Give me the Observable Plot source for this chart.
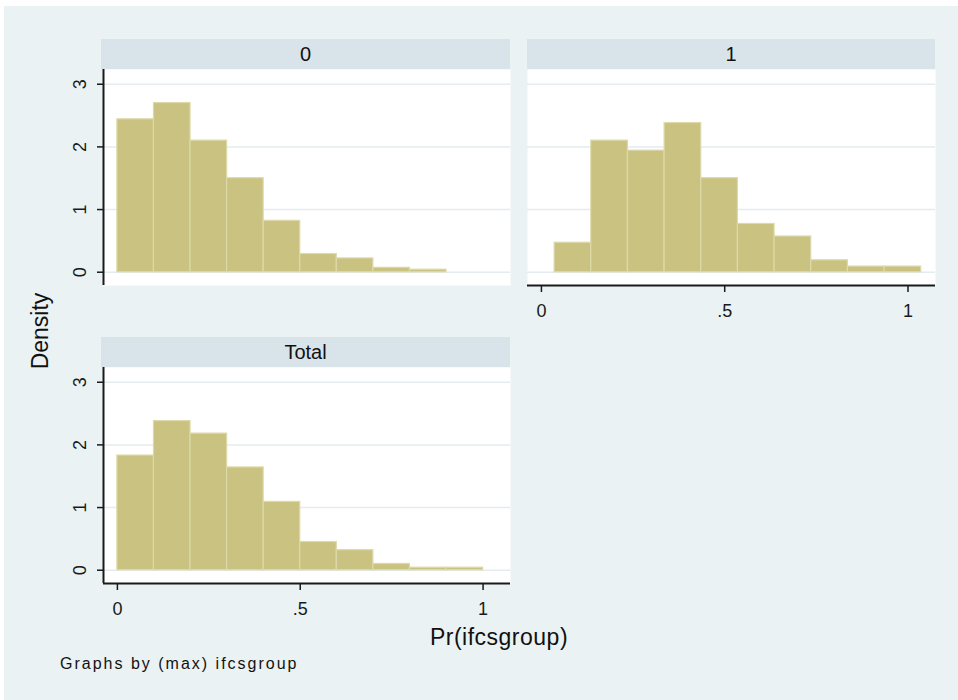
<!DOCTYPE html>
<html><head><meta charset="utf-8">
<script src="https://cdn.jsdelivr.net/npm/d3@7"></script>
<script src="https://cdn.jsdelivr.net/npm/@observablehq/plot@0.6"></script>
<style>
body{margin:0;background:#fff;font-family:"Liberation Sans",Arial,sans-serif;}
#page{position:relative;width:958px;height:700px;overflow:hidden;}
#bg{position:absolute;left:4px;top:6px;right:0;bottom:0;background:#eaf2f3;}
.hdr{position:absolute;background:#d8e4ea;color:#111;font-size:20px;text-align:center;height:30px;line-height:30px;}
.pnl{position:absolute;}
.pnl svg{overflow:visible;}
.lbl{position:absolute;color:#111;white-space:nowrap;}
</style></head><body>
<div id="page"><div id="bg"></div></div>
<script>
// Panel labels (by (max) ifcsgroup)
const panelNames = ["0", "1", "Total"];
// Bin edges and densities
const edges0 = [0, 0.1, 0.2, 0.3, 0.4, 0.5, 0.6, 0.7, 0.8, 0.9];
const dens0  = [2.44, 2.70, 2.10, 1.50, 0.82, 0.29, 0.22, 0.07, 0.04];
const edges1 = [0.036, 0.136, 0.236, 0.336, 0.436, 0.536, 0.636, 0.736, 0.836, 0.936, 1.036];
const dens1  = [0.47, 2.10, 1.94, 2.38, 1.50, 0.77, 0.57, 0.19, 0.09, 0.09];
const edgesT = [0, 0.1, 0.2, 0.3, 0.4, 0.5, 0.6, 0.7, 0.8, 0.9, 1.0];
const densT  = [1.83, 2.38, 2.18, 1.64, 1.09, 0.45, 0.32, 0.10, 0.04, 0.04];
// Ticks
const yTicks = [0, 1, 2, 3];
const yTickLabels = ["0", "1", "2", "3"];
const xTicks = [0, 0.5, 1];
const xTickLabels = ["0", ".5", "1"];
const yTitle = "Density";
const xTitle = "Pr(ifcsgroup)";
const noteText = "Graphs by (max) ifcsgroup";

const xDomain = [-0.038, 1.075];
const yDomain = [-0.212, 3.235];
const barFill = "#c9c281", barStroke = "#ddd9a9";
const axisColor = "#1a1a1a";
const plotH = 216;

function toBins(edges, dens) {
  return dens.map((d, i) => ({x1: edges[i], x2: edges[i + 1], d}));
}

function panel({edges, dens, showX, showY, left, top, width, marginLeft}) {
  const marginBottom = showX ? 45 : 2;
  const marks = [
    Plot.frame({fill: "white", stroke: null}),
    Plot.gridY(yTicks, {stroke: "#e3ecef", strokeOpacity: 1, strokeWidth: 1.5}),
    Plot.rectY(toBins(edges, dens), {x1: "x1", x2: "x2", y: "d", fill: barFill, stroke: barStroke, strokeWidth: 1.2})
  ];
  if (showY) {
    marks.push(Plot.ruleX([xDomain[0]], {stroke: axisColor, strokeWidth: 2}));
    marks.push(Plot.axisY(yTicks, {tickSize: 6, tickRotate: -90, tickPadding: 12, fontSize: 18, stroke: axisColor, strokeWidth: 1.5, fill: axisColor, label: null,
      tickFormat: (d) => yTickLabels[yTicks.indexOf(d)]}));
  }
  if (showX) {
    marks.push(Plot.ruleY([yDomain[0]], {stroke: axisColor, strokeWidth: 2}));
    marks.push(Plot.axisX(xTicks, {tickSize: 7, tickPadding: 12, fontSize: 18, stroke: axisColor, strokeWidth: 1.5, fill: axisColor, label: null,
      tickFormat: (d) => xTickLabels[xTicks.indexOf(d)]}));
  }
  const svg = Plot.plot({
    width, height: plotH + marginBottom,
    marginLeft, marginRight: 0, marginTop: 0, marginBottom,
    x: {domain: xDomain, axis: null},
    y: {domain: yDomain, axis: null},
    style: {fontFamily: '"Liberation Sans", Arial, sans-serif', background: "transparent", color: axisColor},
    marks
  });
  const div = document.createElement("div");
  div.className = "pnl";
  div.style.left = left + "px";
  div.style.top = top + "px";
  div.appendChild(svg);
  document.getElementById("page").appendChild(div);
}

function header(text, left, top, width) {
  const h = document.createElement("div");
  h.className = "hdr";
  h.style.left = left + "px"; h.style.top = top + "px"; h.style.width = width + "px";
  h.textContent = text;
  document.getElementById("page").appendChild(h);
}

header(panelNames[0], 101, 39, 409);
header(panelNames[1], 527, 39, 408);
header(panelNames[2], 101, 337, 409);

panel({edges: edges0, dens: dens0, showX: false, showY: true, left: 0, top: 69, width: 510, marginLeft: 103});
panel({edges: edges1, dens: dens1, showX: true, showY: false, left: 527, top: 69, width: 408, marginLeft: 0});
panel({edges: edgesT, dens: densT, showX: true, showY: true, left: 0, top: 367, width: 510, marginLeft: 103});

function label(text, css) {
  const l = document.createElement("div");
  l.className = "lbl";
  l.textContent = text;
  Object.assign(l.style, css);
  document.getElementById("page").appendChild(l);
  return l;
}
label(yTitle, {fontSize: "23px", left: "40px", top: "331px", transform: "translate(-50%,-50%) rotate(-90deg)"});
label(xTitle, {fontSize: "23px", letterSpacing: "0.5px", left: "499px", top: "637px", transform: "translate(-50%,-50%)"});
label(noteText, {fontSize: "16px", letterSpacing: "2px", left: "60px", top: "664px", transform: "translate(0,-50%)"});
</script>
</body></html>
